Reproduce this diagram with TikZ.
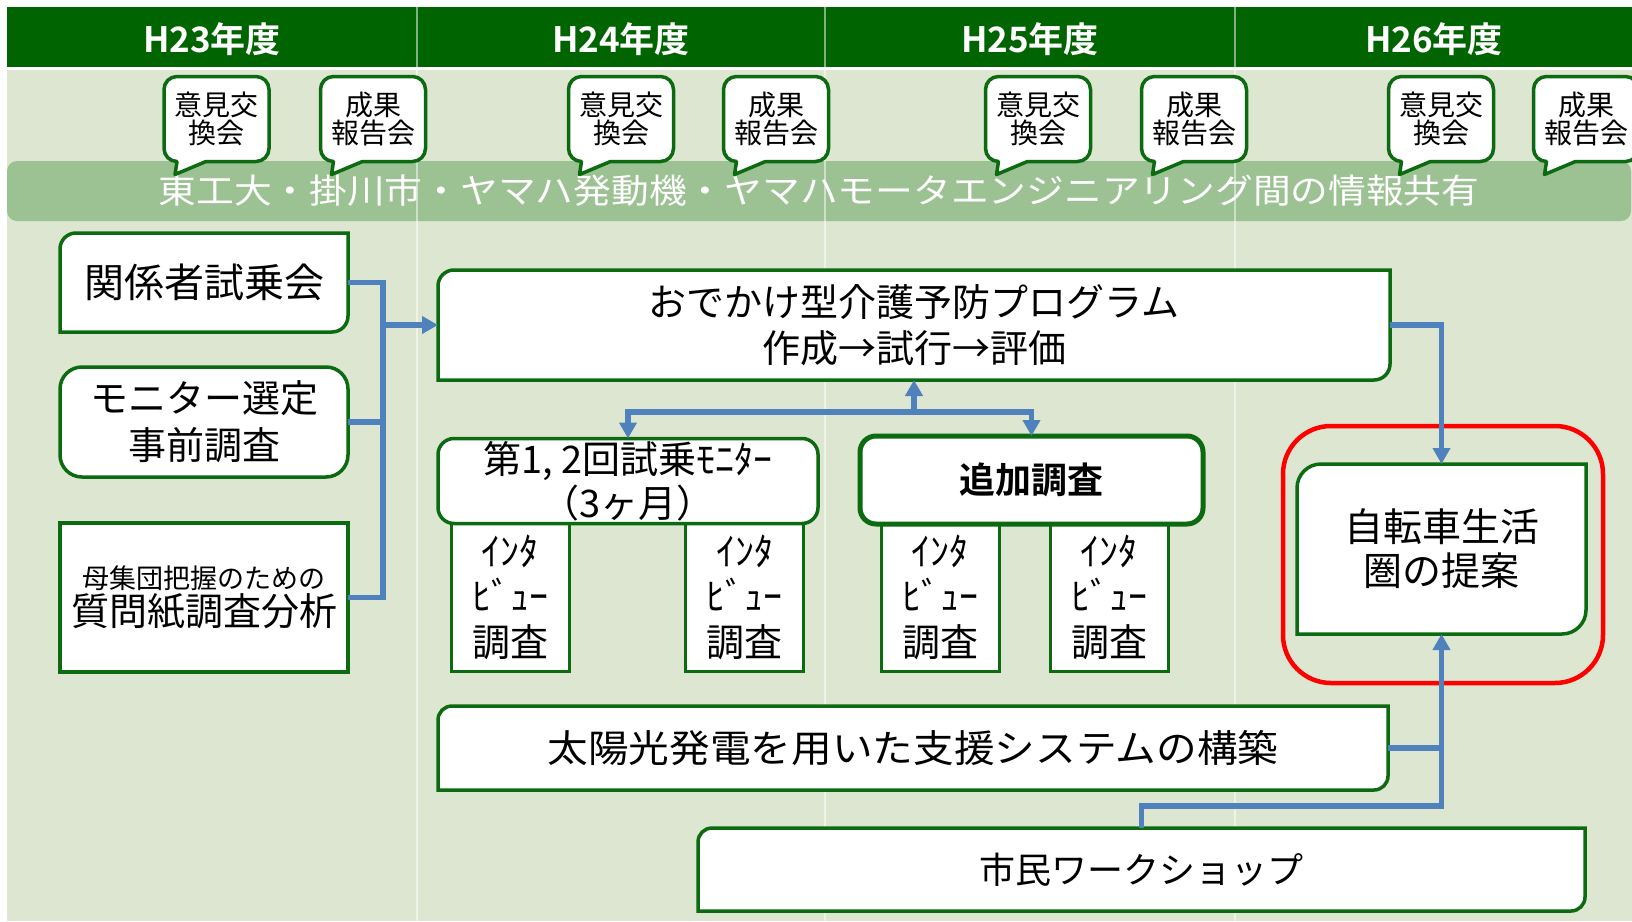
\documentclass[tikz,border=0pt]{standalone}
\usepackage{graphicx}
\usepackage{fontspec}
\setmainfont{Noto Sans CJK JP}[BoldFont={Noto Sans CJK JP Bold}]
\usetikzlibrary{arrows.meta}
\pgfdeclarelayer{bg}\pgfdeclarelayer{boxes}\pgfsetlayers{bg,boxes,main}
\definecolor{hdr}{HTML}{006400}
\definecolor{bgc}{HTML}{DDE6D0}
\definecolor{bandc}{HTML}{9CC293}
\definecolor{bgreen}{HTML}{0C6A10}
\definecolor{lblue}{HTML}{4F81BD}
\newcommand\diagbox[3]{%
  \begin{pgfonlayer}{boxes}
  \draw[#3] ([yshift=-#2]#1.north west) arc[start angle=180,end angle=90,radius=#2] -- (#1.north east) -- ([yshift=#2]#1.south east) arc[start angle=0,end angle=-90,radius=#2] -- (#1.south west) -- cycle;
  \end{pgfonlayer}}
\newcommand\roundbox[3]{%
  \begin{pgfonlayer}{boxes}
  \draw[#3, rounded corners=#2] (#1.north west) rectangle (#1.south east);
  \end{pgfonlayer}}
\newcommand\squarebox[2]{%
  \begin{pgfonlayer}{boxes}
  \draw[#2] (#1.north west) rectangle (#1.south east);
  \end{pgfonlayer}}
\newcommand\bubbleshape[1]{%
  \begin{pgfonlayer}{boxes}
  \draw[bubline] ([xshift=13pt]#1.north west) -- ([xshift=-13pt]#1.north east) arc[start angle=90,end angle=0,radius=13pt] -- ([yshift=13pt]#1.south east) arc[start angle=0,end angle=-90,radius=13pt] -- ([xshift=42pt]#1.south west) -- ([xshift=11pt,yshift=-13pt]#1.south west) -- ([xshift=13pt]#1.south west) arc[start angle=270,end angle=180,radius=13pt] -- ([yshift=-13pt]#1.north west) arc[start angle=180,end angle=90,radius=13pt] -- cycle;
  \end{pgfonlayer}}
\begin{document}
\begin{tikzpicture}[x=1pt,y=-1pt,
  every node/.style={inner sep=0pt, outer sep=0pt},
  boxline/.style={draw=bgreen, fill=white, line width=3.5pt},
  thickbox/.style={draw=bgreen, fill=white, line width=5pt},
  thinbox/.style={draw=bgreen, fill=white, line width=3pt},
  bubline/.style={draw=bgreen, fill=white, line width=3.5pt, line join=round},
  conn/.style={draw=lblue, line width=5.2pt},
  arr/.style={conn, -{Triangle[length=16pt,width=17pt]}},
  hdrtxt/.style={text=white, font=\bfseries\fontsize{35}{35}\selectfont},
  bubtxt/.style={align=center, font=\fontsize{28}{28}\selectfont, minimum width=105pt, minimum height=85pt},
  btxt/.style={align=center, font=\fontsize{38}{46}\selectfont},
  itxt/.style={align=center, font=\fontsize{38}{45.5}\selectfont, minimum width=118pt, minimum height=148pt},
]
\useasboundingbox (0,0) rectangle (1632,921);
\begin{pgfonlayer}{bg}
  \fill[white] (0,0) rectangle (1632,921);
  \fill[bgc] (7,70) rectangle (1632,921);
  \fill[hdr] (7,7) rectangle (1632,67);
  \node[fill=bandc, rounded corners=10pt, minimum width=1624pt, minimum height=60pt, text=white, font=\fontsize{34}{34}\selectfont] (band) at (819,191)
    {\scalebox{1.11}[1]{東工大・掛川市・ヤマハ発動機・ヤマハモータエンジニアリング間の情報共有}};
  \foreach \dx in {417,825,1235} \draw[white, opacity=0.5, line width=2pt] (\dx,7) -- (\dx,921);
\end{pgfonlayer}

% header
\node[hdrtxt] (h23) at (212,39) {H23年度};
\node[hdrtxt] (h24) at (621,39) {H24年度};
\node[hdrtxt] (h25) at (1030,39) {H25年度};
\node[hdrtxt] (h26) at (1434,39) {H26年度};

% bubbles
\node[bubtxt] (bu1) at (216.5,119) {意見交\\換会};
\node[bubtxt] (bu2) at (373,119) {成果\\報告会};
\node[bubtxt] (bu3) at (621,119) {意見交\\換会};
\node[bubtxt] (bu4) at (776,119) {成果\\報告会};
\node[bubtxt] (bu5) at (1038,119) {意見交\\換会};
\node[bubtxt] (bu6) at (1194,119) {成果\\報告会};
\node[bubtxt] (bu7) at (1441,119) {意見交\\換会};
\node[bubtxt] (bu8) at (1586,119) {成果\\報告会};
\foreach \b in {bu1,bu2,bu3,bu4,bu5,bu6,bu7,bu8} {\bubbleshape{\b}}

% left boxes
\node[btxt, font=\fontsize{40}{46}\selectfont, minimum width=288pt, minimum height=99pt] (B1) at (204,282.5) {関係者試乗会};
\diagbox{B1}{16pt}{boxline}
\node[btxt, font=\fontsize{38}{47}\selectfont, minimum width=288pt, minimum height=110pt] (B2) at (204,422) {モニター選定\\事前調査};
\roundbox{B2}{22pt}{boxline}
\node[btxt, font=\fontsize{38}{37}\selectfont, minimum width=288pt, minimum height=149pt] (B3) at (204,597.5) {{\fontsize{27}{37}\selectfont 母集団把握のための}\\質問紙調査分析};
\squarebox{B3}{boxline}

% main program box
\node[btxt, minimum width=952pt, minimum height=110pt] (M) at (914,325) {おでかけ型介護予防プログラム\\作成→試行→評価};
\diagbox{M}{16pt}{boxline}

% interview boxes (drawn before their headers)
\node[itxt] (I1) at (510,597) {ｲﾝﾀ\\ﾋﾞｭｰ\\調査};
\node[itxt] (I2) at (744.5,597) {ｲﾝﾀ\\ﾋﾞｭｰ\\調査};
\node[itxt] (I3) at (940,597) {ｲﾝﾀ\\ﾋﾞｭｰ\\調査};
\node[itxt] (I4) at (1109,597) {ｲﾝﾀ\\ﾋﾞｭｰ\\調査};
\foreach \b in {I1,I2,I3,I4} {\squarebox{\b}{thinbox}}

\node[btxt, font=\fontsize{38}{44}\selectfont, minimum width=380pt, minimum height=85pt] (F) at (628,481) {第1, 2回試乗ﾓﾆﾀｰ\\（3ヶ月）};
\roundbox{F}{16pt}{boxline}
\node[btxt, font=\bfseries\fontsize{36}{36}\selectfont, minimum width=343pt, minimum height=88pt] (T) at (1031.5,480) {追加調査};
\roundbox{T}{16pt}{thickbox}

% proposal
\node[btxt, font=\fontsize{39}{44}\selectfont, minimum width=289pt, minimum height=170pt] (P) at (1441.5,549) {自転車生活\\圏の提案};
\diagbox{P}{24pt}{boxline}
\draw[red, line width=4.5pt, rounded corners=48pt] (1283,426) rectangle (1603,683);

% bottom boxes
\node[btxt, minimum width=950pt, minimum height=84pt] (S) at (913,748) {\scalebox{1.07}[1]{太陽光発電を用いた支援システムの構築}};
\diagbox{S}{14pt}{boxline}
\node[btxt, font=\fontsize{36}{36}\selectfont, minimum width=887pt, minimum height=83pt] (W) at (1141.5,869.5) {市民ワークショップ};
\diagbox{W}{14pt}{boxline}

% connectors
\coordinate (j) at (383,325);
\draw[conn] (B1.east) -| (j |- B3.east) -- (B3.east);
\draw[conn] (B2.east) -- (B2.east -| j);
\draw[arr] (j) -- (M.west);

\coordinate (sp) at (914,412);
\draw[arr] (sp) -- (M.south);
\draw[arr] (sp) -| (F.north);
\draw[arr] (sp) -| (T.north);

\draw[arr] (M.east) -| (P.north);
\coordinate (wy) at (0,806);
\draw[conn] (S.east) -- (S.east -| P.south);
\draw[arr] (W.north) |- (P.south |- wy) -- (P.south);
\end{tikzpicture}
\end{document}
